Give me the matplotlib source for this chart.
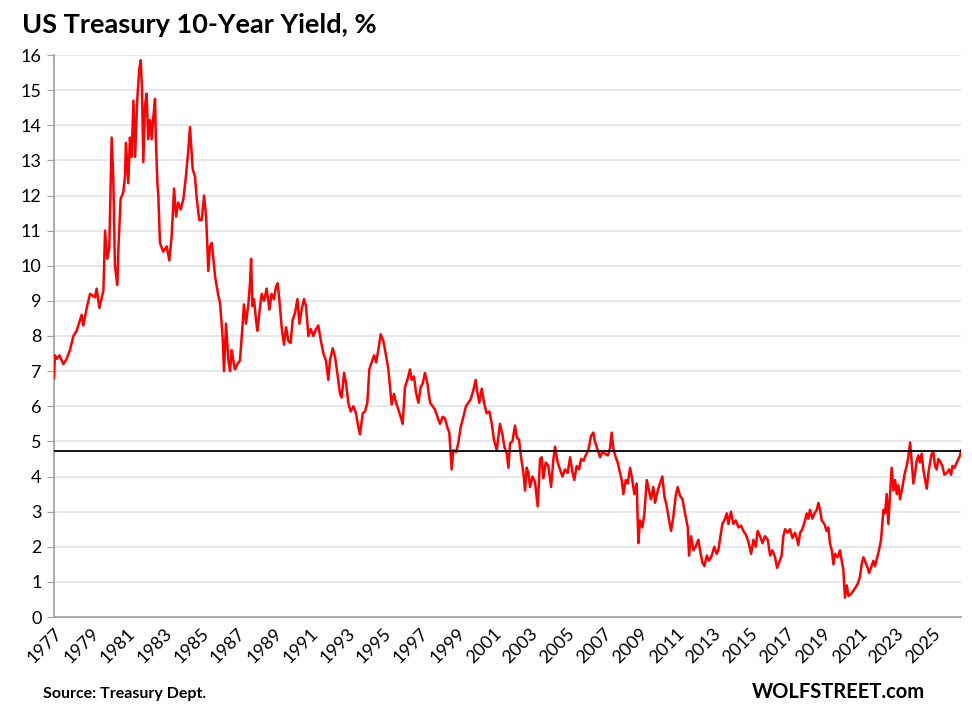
import matplotlib
matplotlib.use("Agg")
import matplotlib.pyplot as plt

# decimal years (offset from 1977) and 10-year yield, %
t_offset = [
    0.00, 0.05, 0.15, 0.30, 0.51, 0.69, 0.87, 1.06, 1.24, 1.51, 1.60, 1.79, 1.97,
    2.24, 2.33, 2.48, 2.70, 2.79, 2.91, 3.02, 3.15, 3.24, 3.33, 3.46, 3.52, 3.64,
    3.79, 3.88, 3.93, 4.06, 4.15, 4.24, 4.34, 4.43, 4.55, 4.66, 4.74, 4.81, 4.88,
    4.97, 5.06, 5.15, 5.25, 5.34, 5.43, 5.52, 5.57, 5.65, 5.70, 5.79, 5.97, 6.16,
    6.30, 6.43, 6.56, 6.67, 6.79, 6.92, 7.07, 7.21, 7.34, 7.43, 7.58, 7.70, 7.80,
    7.94,
    8.07, 8.20, 8.31, 8.38, 8.43, 8.52, 8.62, 8.71, 8.80, 8.98, 9.07, 9.16, 9.22,
    9.29, 9.40, 9.53, 9.62, 9.71, 9.80, 9.89, 10.02, 10.16, 10.26, 10.38, 10.49,
    10.62, 10.71, 10.77, 10.84, 10.93, 11.04, 11.11, 11.22, 11.35, 11.48, 11.62,
    11.77, 11.89, 12.02, 12.13, 12.22, 12.31, 12.44, 12.57, 12.68, 12.81, 12.93,
    13.04, 13.17, 13.30, 13.41, 13.53, 13.66, 13.77, 13.90, 14.03, 14.17, 14.32,
    14.44, 14.57, 14.72, 14.86, 14.99, 15.08, 15.23, 15.36, 15.48, 15.63, 15.72,
    15.85, 15.96, 16.08, 16.21, 16.36, 16.50, 16.63, 16.72,
    16.87, 16.99, 17.12, 17.23, 17.36, 17.49, 17.60, 17.72, 17.85, 18.00, 18.14,
    18.27, 18.36, 18.45, 18.58, 18.69, 18.82, 18.94, 19.05, 19.18, 19.31, 19.45,
    19.54, 19.67, 19.78, 19.91, 20.04, 20.15, 20.27, 20.40, 20.55, 20.69, 20.82,
    20.95, 21.09, 21.24, 21.37, 21.49, 21.60, 21.73, 21.82, 21.97, 22.09, 22.22,
    22.37, 22.51, 22.64, 22.77, 22.91, 23.04, 23.13, 23.24, 23.37, 23.50, 23.64,
    23.79, 23.92, 24.04,
    24.19, 24.37, 24.50, 24.61, 24.74, 24.83, 24.92, 25.05, 25.19, 25.30, 25.41,
    25.52, 25.65, 25.74, 25.83, 25.92, 26.01, 26.14, 26.28, 26.43, 26.56, 26.65,
    26.74, 26.87, 27.01, 27.16, 27.29, 27.38, 27.52, 27.65, 27.78, 27.92, 28.07,
    28.20, 28.32, 28.43, 28.56, 28.69, 28.80, 28.93, 29.05, 29.20, 29.34, 29.47,
    29.56, 29.71, 29.84, 29.96, 30.11, 30.26, 30.38, 30.47, 30.56, 30.69, 30.80,
    30.93, 31.02, 31.11, 31.24, 31.35, 31.48, 31.60, 31.71, 31.84, 31.93, 32.02,
    32.15, 32.26,
    32.39, 32.51, 32.62, 32.75, 32.84, 32.99, 33.11, 33.24, 33.35, 33.48, 33.61,
    33.72, 33.84, 33.97, 34.08, 34.21, 34.34, 34.48, 34.63, 34.70, 34.81, 34.94,
    35.06, 35.21, 35.30, 35.43, 35.54, 35.67, 35.79, 35.94, 36.08, 36.21, 36.30,
    36.39, 36.52, 36.63, 36.76, 36.85, 36.99, 37.12, 37.25, 37.40, 37.54, 37.67,
    37.80, 37.94, 38.09, 38.22, 38.34, 38.45, 38.58, 38.71, 38.85, 39.00, 39.13,
    39.25, 39.40, 39.51, 39.62, 39.76, 39.85, 39.95, 40.09, 40.22, 40.35,
    40.49, 40.58, 40.67, 40.77, 40.89, 41.04, 41.13, 41.22, 41.31, 41.44, 41.55,
    41.68, 41.77, 41.86, 41.95, 42.09, 42.22, 42.31, 42.40, 42.50, 42.59, 42.68,
    42.82, 42.95, 43.04, 43.13, 43.22, 43.32, 43.41, 43.55, 43.68, 43.81, 43.92,
    44.04, 44.13, 44.23, 44.35, 44.46, 44.54, 44.64, 44.77, 44.86, 45.01, 45.08,
    45.19, 45.32, 45.41, 45.50, 45.59, 45.68, 45.77, 45.87, 45.96, 46.05, 46.14,
    46.23, 46.36, 46.47, 46.59, 46.68, 46.78, 46.87, 46.96, 47.05, 47.14, 47.23,
    47.32, 47.41, 47.50, 47.60, 47.69, 47.78, 47.87, 47.96, 48.05, 48.14, 48.23,
    48.32, 48.45, 48.54, 48.65, 48.78, 48.91, 49.02, 49.09, 49.20, 49.33, 49.42,
    49.51, 49.56,
]
yields = [
    6.8, 7.45, 7.35, 7.45, 7.2, 7.35, 7.6, 8.0, 8.15, 8.6, 8.3, 8.8, 9.2,
    9.1, 9.35, 8.8, 9.3, 11.0, 10.2, 10.5, 13.65, 12.5, 10.0, 9.45, 10.5, 11.9,
    12.1, 12.55, 13.5, 12.35, 13.65, 13.1, 14.7, 13.1, 14.75, 15.6, 15.85, 15.0, 12.95,
    14.55, 14.9, 13.6, 14.15, 13.6, 14.25, 14.75, 13.5, 12.35, 12.0, 10.65, 10.4, 10.55,
    10.15, 10.85, 12.2, 11.4, 11.8, 11.6, 11.9, 12.55, 13.3, 13.95, 12.75, 12.55, 11.9,
    11.3,
    11.3, 12.0, 11.4, 10.55, 9.85, 10.55, 10.65, 10.2, 9.7, 9.15, 8.95, 8.35, 7.9,
    7.0, 8.35, 7.3, 7.0, 7.6, 7.3, 7.05, 7.2, 7.3, 8.0, 8.9, 8.35,
    8.9, 9.5, 10.2, 8.85, 9.05, 8.45, 8.15, 8.65, 9.2, 9.0, 9.35,
    8.75, 9.2, 9.05, 9.4, 9.5, 9.05, 8.25, 7.75, 8.25, 7.85, 7.8,
    8.45, 8.65, 9.05, 8.35, 8.75, 9.05, 8.85, 8.0, 8.2, 8.0, 8.2,
    8.3, 7.9, 7.5, 7.3, 6.75, 7.3, 7.65, 7.4, 6.95, 6.35, 6.25,
    6.95, 6.65, 6.1, 5.85, 6.0, 5.8, 5.4, 5.2,
    5.8, 5.85, 6.1, 7.05, 7.25, 7.45, 7.25, 7.6, 8.05, 7.85, 7.45,
    7.05, 6.55, 6.05, 6.35, 6.1, 5.9, 5.7, 5.5, 6.55, 6.75, 7.05,
    6.75, 6.85, 6.4, 6.1, 6.55, 6.65, 6.95, 6.65, 6.1, 6.0, 5.9,
    5.7, 5.5, 5.7, 5.65, 5.4, 5.25, 4.2, 4.75, 4.7, 4.95, 5.4,
    5.7, 6.0, 6.1, 6.2, 6.45, 6.75, 6.4, 6.1, 6.5, 6.1, 5.8,
    5.85, 5.5, 5.05,
    4.75, 5.5, 5.2, 4.85, 4.65, 4.25, 4.95, 5.0, 5.45, 5.1, 5.05,
    4.55, 4.1, 3.6, 4.25, 4.1, 3.7, 4.0, 3.85, 3.15, 4.5, 4.55,
    3.95, 4.4, 4.3, 3.7, 4.5, 4.85, 4.4, 4.2, 4.0, 4.2, 4.1,
    4.55, 4.15, 3.9, 4.3, 4.2, 4.5, 4.45, 4.6, 4.75, 5.15, 5.25,
    5.0, 4.75, 4.55, 4.7, 4.65, 4.6, 4.8, 5.25, 4.8, 4.55, 4.4,
    4.1, 3.9, 3.5, 3.9, 3.8, 4.25, 3.9, 3.5, 3.8, 2.1, 2.75,
    2.55, 2.95,
    3.9, 3.6, 3.35, 3.7, 3.25, 3.6, 3.8, 4.0, 3.45, 3.15, 2.75,
    2.45, 2.85, 3.45, 3.7, 3.45, 3.35, 2.95, 2.55, 1.75, 2.3, 1.9,
    2.0, 2.2, 1.9, 1.55, 1.45, 1.75, 1.6, 1.75, 2.0, 1.8, 1.9,
    2.2, 2.65, 2.75, 2.95, 2.65, 3.0, 2.65, 2.75, 2.55, 2.6, 2.45,
    2.35, 2.15, 1.8, 2.2, 2.0, 2.45, 2.3, 2.1, 2.3, 2.2, 1.75,
    1.9, 1.7, 1.4, 1.55, 1.75, 2.3, 2.5, 2.4, 2.5, 2.25,
    2.4, 2.25, 2.05, 2.4, 2.5, 2.75, 2.95, 2.8, 3.05, 2.8, 2.95,
    3.05, 3.25, 3.05, 2.75, 2.65, 2.45, 2.55, 2.1, 1.9, 1.5, 1.8,
    1.7, 1.9, 1.6, 1.35, 0.55, 0.9, 0.6, 0.65, 0.75, 0.85, 0.95,
    1.15, 1.5, 1.7, 1.55, 1.4, 1.25, 1.4, 1.6, 1.45, 1.75, 1.9,
    2.2, 3.05, 2.95, 3.5, 2.65, 3.45, 4.25, 3.6, 3.9, 3.5, 3.75,
    3.35, 3.7, 4.05, 4.3, 4.55, 4.97, 4.4, 3.8, 4.1, 4.45, 4.6,
    4.4, 4.65, 4.2, 3.9, 3.65, 4.1, 4.4, 4.65, 4.7, 4.3, 4.2,
    4.5, 4.4, 4.3, 4.05, 4.1, 4.2, 4.05, 4.3, 4.25, 4.4, 4.5,
    4.6, 4.74,
]
start_year = 1977
ref_level = 4.74   # black horizontal line
tick_years = list(range(1977, 2026, 2))
y_ticks = list(range(0, 17))

years = [start_year + v for v in t_offset]

font = ['Lato', 'DejaVu Sans']
plt.rcParams['font.family'] = font

fig = plt.figure(figsize=(9.72, 7.11), dpi=100)
ax = fig.add_axes([54 / 972, 1 - 617 / 711, (961 - 54) / 972, (617 - 55) / 711])

ax.plot(years, yields, color='#FF0000', lw=1.8, zorder=3)
ax.axhline(ref_level, color='black', lw=1.3, zorder=4)

ax.set_xlim(start_year, years[-1])
ax.set_ylim(0, 16)
ax.set_yticks(y_ticks)
ax.set_xticks(tick_years)
ax.set_xticklabels([str(y) for y in tick_years], rotation=45, ha='right',
                   rotation_mode='anchor', fontsize=13)
ax.tick_params(axis='y', labelsize=13, length=5, color='#A0A0A0', pad=4)
ax.tick_params(axis='x', length=0, pad=6)

ax.grid(axis='y', color='#E1E4EA', lw=1.2, zorder=0)
ax.set_axisbelow(True)
for s in ['top', 'right']:
    ax.spines[s].set_visible(False)
for s in ['left', 'bottom']:
    ax.spines[s].set_color('#A0A0A0')
    ax.spines[s].set_linewidth(1.2)

fig.text(22 / 972, 1 - 33 / 711, 'US Treasury 10-Year Yield, %', fontsize=19.5,
         fontweight='bold', va='baseline')
fig.text(43 / 972, 1 - 698 / 711, 'Source: Treasury Dept.', fontsize=11.5,
         fontweight='bold', va='baseline')
fig.text(925 / 972, 1 - 698 / 711, 'WOLFSTREET.com', fontsize=14.5,
         fontweight='bold', va='baseline', ha='right')

fig.savefig('out.png', dpi=100)
